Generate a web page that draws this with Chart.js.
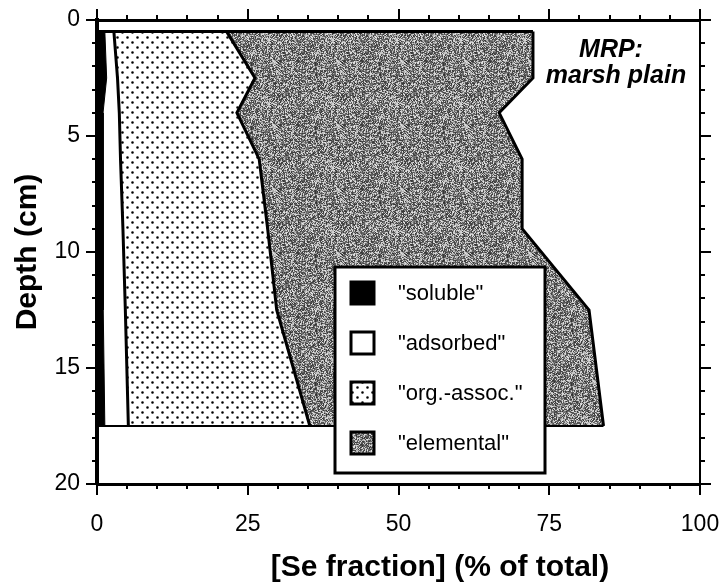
<!DOCTYPE html>
<html>
<head>
<meta charset="utf-8">
<script src="https://cdn.jsdelivr.net/npm/chart.js@4.4.0/dist/chart.umd.min.js"></script>
<style>
  body { margin: 0; background: #fff; }
  #wrap { width: 720px; height: 586px; }
</style>
</head>
<body>
<div id="wrap"><canvas id="seChart"></canvas></div>
<script>
// depth of each sample (cm) and Se fractions (% of total) at that depth
const depths = [0.5, 2.5, 4, 6, 9, 12.5, 17.5];
const soluble = [1.3, 1.6, 1.0, 1.0, 1.0, 1.1, 1.3];
const adsorbed = [1.5, 1.8, 2.7, 2.9, 3.3, 3.6, 3.9];
const orgAssoc = [18.7, 22.8, 19.5, 23.0, 24.0, 25.1, 30.1];
const elemental = [50.8, 46.1, 43.5, 43.6, 42.2, 51.8, 48.7];
const fractionLabels = ['"soluble"', '"adsorbed"', '"org.-assoc."', '"elemental"'];

const FONT = "'Liberation Sans', Arial, sans-serif";

// running totals -> right edge of each band
const series = [soluble, adsorbed, orgAssoc, elemental];
const cum = [];
let run = depths.map(() => 0);
series.forEach((s) => {
  run = run.map((v, i) => v + s[i]);
  cum.push(run.slice());
});
const total = cum[cum.length - 1];

// fill patterns
function dotPattern() {
  const c = document.createElement('canvas');
  c.width = 10;
  c.height = 10;
  const g = c.getContext('2d');
  g.fillStyle = '#fff';
  g.fillRect(0, 0, 10, 10);
  g.fillStyle = '#000';
  g.beginPath();
  g.arc(2.5, 2.5, 1.3, 0, Math.PI * 2);
  g.arc(7.5, 7.5, 1.3, 0, Math.PI * 2);
  g.fill();
  return g.createPattern(c, 'repeat');
}

function stipplePattern() {
  const n = 64;
  const c = document.createElement('canvas');
  c.width = n;
  c.height = n;
  const g = c.getContext('2d');
  const img = g.createImageData(n, n);
  let seed = 12345;
  for (let i = 0; i < n * n; i++) {
    seed = (seed * 1103515245 + 12345) & 0x7fffffff;
    const r = seed / 0x7fffffff;
    const v = r < 0.6 ? 50 + r * 130 : 160 + (r - 0.6) * 180;
    img.data[i * 4] = v;
    img.data[i * 4 + 1] = v;
    img.data[i * 4 + 2] = v;
    img.data[i * 4 + 3] = 255;
  }
  g.putImageData(img, 0, 0);
  return g.createPattern(c, 'repeat');
}

const fills = ['#000', '#fff', dotPattern(), stipplePattern()];

const datasets = series.map((s, k) => ({
  label: fractionLabels[k],
  data: depths.map((d, i) => ({ x: cum[k][i], y: d })),
  xAxisID: 'x',
  yAxisID: 'y',
  backgroundColor: fills[k],
  borderColor: '#000',
  borderWidth: k === 0 ? 1 : 3,
  fill: k === 0 ? 'origin' : '-1',
  pointRadius: 0,
}));

// top and bottom edges of the profile
const last = depths.length - 1;
datasets.push({
  label: 'top',
  data: [{ x: 0, y: depths[0] }, { x: total[0], y: depths[0] }],
  xAxisID: 'x',
  yAxisID: 'y',
  borderColor: '#000',
  borderWidth: 3,
  fill: false,
  pointRadius: 0,
  order: -1,
});
datasets.push({
  label: 'bottom',
  data: [{ x: 0, y: depths[last] }, { x: total[last], y: depths[last] }],
  xAxisID: 'x',
  yAxisID: 'y',
  borderColor: '#000',
  borderWidth: 2,
  fill: false,
  pointRadius: 0,
  order: -1,
});

const majorGrid = {
  drawOnChartArea: false,
  drawTicks: true,
  tickLength: 11,
  lineWidth: 2,
  color: '#000',
};

function noPad(s) {
  s.paddingLeft = 0;
  s.paddingRight = 0;
  s.paddingTop = 0;
  s.paddingBottom = 0;
}

// minor ticks, outside on all four sides
const minorTicks = {
  id: 'minorTicks',
  afterDraw(chart) {
    const { ctx, chartArea: a, scales } = chart;
    ctx.save();
    ctx.strokeStyle = '#000';
    ctx.lineWidth = 2;
    ctx.beginPath();
    for (let v = 5; v < 100; v += 5) {
      if (v % 25 === 0) continue;
      const px = Math.round(scales.x.getPixelForValue(v));
      ctx.moveTo(px, a.bottom);
      ctx.lineTo(px, a.bottom + 5);
      ctx.moveTo(px, a.top);
      ctx.lineTo(px, a.top - 5);
    }
    for (let v = 1; v < 20; v++) {
      if (v % 5 === 0) continue;
      const py = Math.round(scales.y.getPixelForValue(v));
      ctx.moveTo(a.left, py);
      ctx.lineTo(a.left - 5, py);
      ctx.moveTo(a.right, py);
      ctx.lineTo(a.right + 5, py);
    }
    ctx.stroke();
    ctx.restore();
  },
};

// legend box, site label and x title
const overlay = {
  id: 'overlay',
  afterDraw(chart) {
    const { ctx } = chart;
    ctx.save();

    // legend
    const bx = 335, by = 267, bw = 210, bh = 206;
    ctx.fillStyle = '#fff';
    ctx.fillRect(bx, by, bw, bh);
    ctx.strokeStyle = '#000';
    ctx.lineWidth = 3;
    ctx.strokeRect(bx, by, bw, bh);
    fractionLabels.forEach((lab, k) => {
      const cy = 293 + k * 50;
      ctx.fillStyle = fills[k];
      ctx.fillRect(351, cy - 11, 23, 22);
      ctx.lineWidth = 3;
      ctx.strokeStyle = '#000';
      ctx.strokeRect(351, cy - 11, 23, 22);
      ctx.fillStyle = '#000';
      ctx.font = '22px ' + FONT;
      ctx.textAlign = 'left';
      ctx.textBaseline = 'middle';
      ctx.fillText(lab, 398, cy + 1);
    });

    // site label
    ctx.fillStyle = '#000';
    ctx.font = 'italic bold 25px ' + FONT;
    ctx.textAlign = 'center';
    ctx.textBaseline = 'alphabetic';
    ctx.fillText('MRP:', 611, 57);
    ctx.fillText('marsh plain', 616, 83);

    // x axis title
    ctx.font = 'bold 30px ' + FONT;
    ctx.textBaseline = 'middle';
    ctx.fillText('[Se fraction] (% of total)', 440, 568);

    ctx.restore();
  },
};

const ctx = document.getElementById('seChart').getContext('2d');
new Chart(ctx, {
  type: 'line',
  data: { datasets: datasets },
  options: {
    indexAxis: 'y',
    responsive: true,
    maintainAspectRatio: false,
    animation: false,
    layout: { padding: 0 },
    elements: { line: { tension: 0 } },
    plugins: {
      legend: { display: false },
      tooltip: { enabled: false },
    },
    scales: {
      x: {
        type: 'linear',
        position: 'bottom',
        min: 0,
        max: 100,
        ticks: {
          stepSize: 25,
          padding: 16,
          color: '#000',
          font: { family: FONT, size: 23 },
        },
        grid: majorGrid,
        border: { color: '#000', width: 3 },
        afterFit: (s) => { s.height = 102; noPad(s); },
      },
      xT: {
        type: 'linear',
        axis: 'x',
        position: 'top',
        min: 0,
        max: 100,
        ticks: { stepSize: 25, display: false },
        grid: majorGrid,
        border: { color: '#000', width: 3 },
        afterFit: (s) => { s.height = 20; noPad(s); },
      },
      y: {
        type: 'linear',
        position: 'left',
        reverse: true,
        min: 0,
        max: 20,
        ticks: {
          stepSize: 5,
          padding: 6,
          color: '#000',
          font: { family: FONT, size: 23 },
        },
        title: {
          display: true,
          text: 'Depth (cm)',
          color: '#000',
          font: { family: FONT, size: 30, weight: 'bold' },
          padding: { top: 10, bottom: 0 },
        },
        grid: majorGrid,
        border: { color: '#000', width: 4 },
        afterFit: (s) => { s.width = 97; noPad(s); },
      },
      yR: {
        type: 'linear',
        axis: 'y',
        position: 'right',
        reverse: true,
        min: 0,
        max: 20,
        ticks: { stepSize: 5, display: false },
        grid: majorGrid,
        border: { color: '#000', width: 2 },
        afterFit: (s) => { s.width = 20; noPad(s); },
      },
    },
  },
  plugins: [minorTicks, overlay],
});
</script>
</body>
</html>
